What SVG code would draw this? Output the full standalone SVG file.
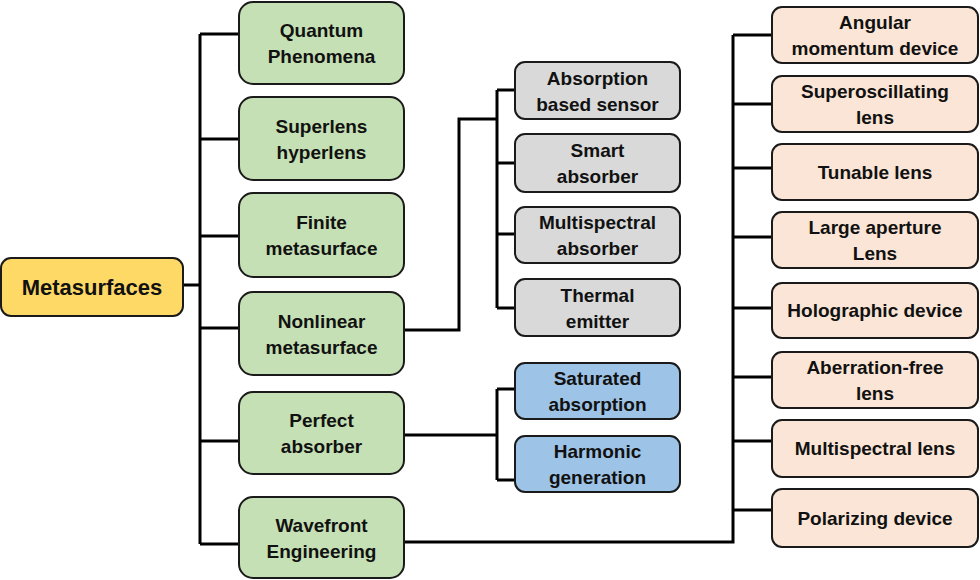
<svg xmlns="http://www.w3.org/2000/svg" width="980" height="580" viewBox="0 0 980 580">
<style>
.box{stroke:#1a1a1a;stroke-width:2}
.root{fill:#FFD966}
.g{fill:#C5E0B4}
.gr{fill:#D9D9D9}
.b{fill:#9DC3E6}
.p{fill:#FBE5D6}
text{font-family:"Liberation Sans",Arial,sans-serif;font-weight:bold;font-size:19px;fill:#111;text-anchor:middle}
.conn{fill:none;stroke:#000;stroke-width:3}
</style>
<rect width="980" height="580" fill="#fff"/>
<g id="connectors" class="conn">
<path d="M183,285H200M200,34V544M200,34H239M200,139H239M200,236H239M200,328H239M200,441H239M200,544H239"/>
<path d="M404,330H459V119H497M497,90V308M497,90H515M497,163H515M497,234H515M497,308H515"/>
<path d="M404,435H497M497,389V480M497,389H515M497,480H515"/>
<path d="M404,542H733V35M733,35H772M733,104H772M733,168H772M733,237H772M733,308H772M733,377H772M733,441H772M733,510H772"/>
</g>
<g id="metasurfaces"><rect class="box root" x="1" y="258" width="182" height="58" rx="10"/><text x="92" y="295" style="font-size:22px">Metasurfaces</text></g>
<g id="quantum"><rect class="box g" x="239" y="2" width="165" height="82" rx="14"/><text x="321.5" y="37">Quantum</text><text x="321.5" y="63">Phenomena</text></g>
<g id="superlens"><rect class="box g" x="239" y="97" width="165" height="83" rx="14"/><text x="321.5" y="132.5">Superlens</text><text x="321.5" y="158.5">hyperlens</text></g>
<g id="finite"><rect class="box g" x="239" y="193" width="165" height="84" rx="14"/><text x="321.5" y="229">Finite</text><text x="321.5" y="255">metasurface</text></g>
<g id="nonlinear"><rect class="box g" x="239" y="292" width="165" height="83" rx="14"/><text x="321.5" y="328">Nonlinear</text><text x="321.5" y="354">metasurface</text></g>
<g id="perfect"><rect class="box g" x="239" y="392" width="165" height="82" rx="14"/><text x="321.5" y="427">Perfect</text><text x="321.5" y="453">absorber</text></g>
<g id="wavefront"><rect class="box g" x="239" y="497" width="165" height="81" rx="14"/><text x="321.5" y="532">Wavefront</text><text x="321.5" y="558">Engineering</text></g>
<g id="absorption-sensor"><rect class="box gr" x="515" y="62" width="165" height="57" rx="10"/><text x="597.5" y="84.5">Absorption</text><text x="597.5" y="110.5">based sensor</text></g>
<g id="smart"><rect class="box gr" x="515" y="134" width="165" height="58" rx="10"/><text x="597.5" y="157">Smart</text><text x="597.5" y="183">absorber</text></g>
<g id="multispectral-absorber"><rect class="box gr" x="515" y="207" width="165" height="56" rx="10"/><text x="597.5" y="229">Multispectral</text><text x="597.5" y="255">absorber</text></g>
<g id="thermal"><rect class="box gr" x="515" y="279" width="165" height="57" rx="10"/><text x="597.5" y="301.5">Thermal</text><text x="597.5" y="327.5">emitter</text></g>
<g id="saturated"><rect class="box b" x="515" y="363" width="165" height="56" rx="10"/><text x="597.5" y="385">Saturated</text><text x="597.5" y="411">absorption</text></g>
<g id="harmonic"><rect class="box b" x="515" y="436" width="165" height="56" rx="10"/><text x="597.5" y="458">Harmonic</text><text x="597.5" y="484">generation</text></g>
<g id="angular"><rect class="box p" x="772" y="7" width="206" height="56" rx="10"/><text x="875" y="29">Angular</text><text x="875" y="55">momentum device</text></g>
<g id="superoscillating"><rect class="box p" x="772" y="76" width="206" height="56" rx="10"/><text x="875" y="98">Superoscillating</text><text x="875" y="124">lens</text></g>
<g id="tunable"><rect class="box p" x="772" y="144" width="206" height="56" rx="10"/><text x="875" y="179">Tunable lens</text></g>
<g id="large-aperture"><rect class="box p" x="772" y="212" width="206" height="56" rx="10"/><text x="875" y="234">Large aperture</text><text x="875" y="260">Lens</text></g>
<g id="holographic"><rect class="box p" x="772" y="283" width="206" height="55" rx="10"/><text x="875" y="317">Holographic device</text></g>
<g id="aberration"><rect class="box p" x="772" y="352" width="206" height="56" rx="10"/><text x="875" y="374">Aberration-free</text><text x="875" y="400">lens</text></g>
<g id="multispectral-lens"><rect class="box p" x="772" y="420" width="206" height="57" rx="10"/><text x="875" y="455">Multispectral lens</text></g>
<g id="polarizing"><rect class="box p" x="772" y="489" width="206" height="58" rx="10"/><text x="875" y="525">Polarizing device</text></g>
</svg>
